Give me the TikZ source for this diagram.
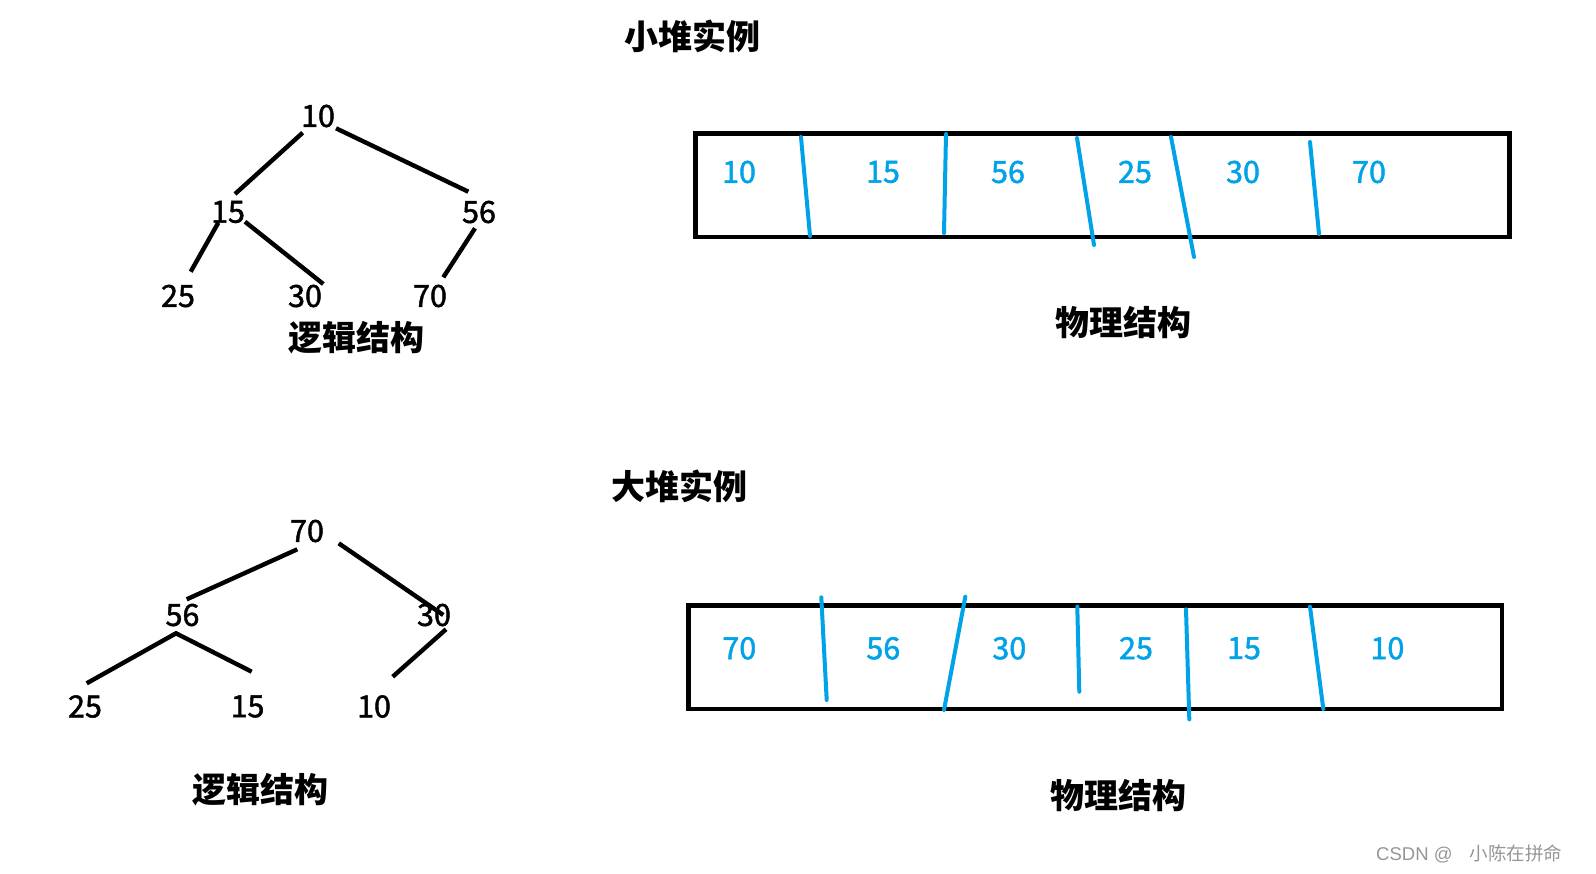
\documentclass[tikz,border=0pt]{standalone}
\usepackage{fontspec}
\setmainfont{Noto Sans CJK SC}
\newfontfamily\cjk{Noto Sans CJK SC}
\newfontfamily\latinwm{Liberation Sans}
\newfontfamily\numfont[FakeBold=1.5]{Noto Sans CJK SC}
\definecolor{paintblue}{RGB}{0,162,232}
\definecolor{wmgray}{RGB}{150,150,150}
\tikzset{
  num/.style={font=\numfont\fontsize{30.5}{30.5}\selectfont, inner sep=0pt, text=black},
  cell/.style={font=\numfont\fontsize{30.5}{30.5}\selectfont, inner sep=0pt, text=paintblue},
  title/.style={font=\cjk\bfseries\fontsize{34}{34}\selectfont, inner sep=0pt, text=black},
  edge/.style={line width=4.4pt, black},
  sep/.style={line width=4pt, paintblue, line cap=round},
  arraybox/.style={line width=4.5pt, black}
}
\begin{document}
\begin{tikzpicture}[x=1pt,y=-1pt]
\useasboundingbox[fill=white] (0,0) rectangle (1596,873);

% ---------- titles ----------
\node[title] (t1) at (692,36) {小堆实例};
\node[title] (t2) at (679,486) {大堆实例};

% ---------- small heap: logical ----------
\node[num] (a10) at (318,116) {10};
\node[num] (a15) at (228,212) {15};
\node[num] (a56) at (479,212) {56};
\node[num] (a25) at (178,296) {25};
\node[num] (a30) at (305,296) {30};
\node[num] (a70) at (430,296) {70};
\node[title] (al) at (356,338) {逻辑结构};

\coordinate (a10l) at (302.7,132.7); \coordinate (a15t) at (235,194);
\coordinate (a10r) at (336,128.3);   \coordinate (a56t) at (468.3,191.7);
\coordinate (a15l) at (218.3,222.7); \coordinate (a25t) at (190.7,271.7);
\coordinate (a15r) at (245,221.7);   \coordinate (a30t) at (323.3,284);
\coordinate (a56b) at (475,228.3);   \coordinate (a70t) at (443.3,277.3);
\draw[edge] (a10l) -- (a15t);
\draw[edge] (a10r) -- (a56t);
\draw[edge] (a15l) -- (a25t);
\draw[edge] (a15r) -- (a30t);
\draw[edge] (a56b) -- (a70t);

% ---------- small heap: physical ----------
\draw[arraybox] (695.5,133.5) rectangle (1509.5,237);
\draw[sep] (801,137) -- (810,236);
\draw[sep] (946,134) -- (944,233);
\draw[sep] (1077,138) -- (1094,245);
\draw[sep] (1171,137) -- (1194,257);
\draw[sep] (1310,142) -- (1319,234);
\node[cell] (p1) at (739,172) {10};
\node[cell] (p2) at (883,172) {15};
\node[cell] (p3) at (1008,172) {56};
\node[cell] (p4) at (1135,172) {25};
\node[cell] (p5) at (1243,172) {30};
\node[cell] (p6) at (1369,172) {70};
\node[title] (pl) at (1123,323) {物理结构};

% ---------- big heap: logical ----------
\node[num] (b70) at (307,531) {70};
\node[num] (b56) at (182.5,615) {56};
\node[num] (b30) at (434,615) {30};
\node[num] (b25) at (85,706.5) {25};
\node[num] (b15) at (247.5,706.5) {15};
\node[num] (b10) at (374,706.5) {10};
\node[title] (bl) at (260,790) {逻辑结构};

\coordinate (b70l) at (297.3,549.3); \coordinate (b56t) at (186.7,599.3);
\coordinate (b70r) at (338.7,543.3); \coordinate (b30t) at (443.3,615);
\coordinate (b56b) at (176,633.3);
\coordinate (b25t) at (86.7,683.3);  \coordinate (b15t) at (251.7,671.7);
\coordinate (b30b) at (446,629.3);   \coordinate (b10t) at (392.7,676.7);
\draw[edge] (b70l) -- (b56t);
\draw[edge] (b70r) -- (b30t);
\draw[edge] (b25t) -- (b56b) -- (b15t);
\draw[edge] (b30b) -- (b10t);

% ---------- big heap: physical ----------
\draw[arraybox] (688.5,605.7) rectangle (1502,709);
\draw[sep] (821.3,597.3) -- (826.7,700);
\draw[sep] (965.3,596.7) -- (944,710);
\draw[sep] (1077.3,606.7) -- (1079.3,691.7);
\draw[sep] (1186,609.3) -- (1189.3,719.3);
\draw[sep] (1310,606.7) -- (1323.3,709);
\node[cell] (q1) at (739.3,648.3) {70};
\node[cell] (q2) at (883.3,648.3) {56};
\node[cell] (q3) at (1009.3,648.3) {30};
\node[cell] (q4) at (1136,648.3) {25};
\node[cell] (q5) at (1244,648.3) {15};
\node[cell] (q6) at (1387.4,648.3) {10};
\node[title] (ql) at (1118,796) {物理结构};

% ---------- watermark ----------
\node[font=\cjk\fontsize{18.5}{18.5}\selectfont, text=wmgray, inner sep=0pt, anchor=west] (wm) at (1376,854) {{\latinwm CSDN @}\hspace{17pt}小陈在拼命};
\end{tikzpicture}
\end{document}
